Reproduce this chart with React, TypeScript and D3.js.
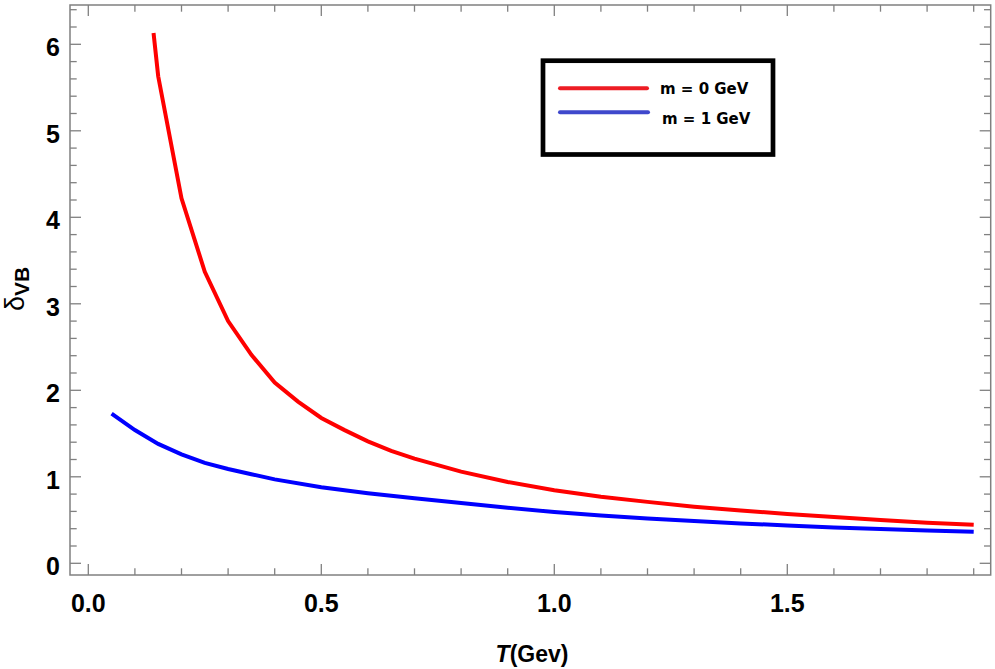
import * as d3 from "d3";

// temperatures (GeV) and delta_VB
const tRed = [0.14, 0.15, 0.2, 0.25, 0.3, 0.35, 0.4, 0.45, 0.5, 0.55, 0.6, 0.65, 0.7, 0.8, 0.9, 1.0, 1.1, 1.2, 1.3, 1.4, 1.5, 1.6, 1.7, 1.8, 1.9];
const vRed = [6.13, 5.63, 4.22, 3.37, 2.8, 2.41, 2.09, 1.87, 1.68, 1.54, 1.41, 1.3, 1.21, 1.06, 0.94, 0.845, 0.77, 0.71, 0.655, 0.61, 0.57, 0.535, 0.5, 0.47, 0.445];

const tBlue = [0.05, 0.1, 0.15, 0.2, 0.25, 0.3, 0.35, 0.4, 0.5, 0.6, 0.7, 0.8, 0.9, 1.0, 1.1, 1.2, 1.3, 1.4, 1.5, 1.6, 1.7, 1.8, 1.9];
const vBlue = [1.73, 1.54, 1.38, 1.26, 1.16, 1.09, 1.03, 0.97, 0.88, 0.81, 0.752, 0.697, 0.642, 0.592, 0.553, 0.518, 0.488, 0.461, 0.437, 0.415, 0.396, 0.38, 0.365];

const xMajor = [0, 0.5, 1.0, 1.5];
const xLabels = ["0.0", "0.5", "1.0", "1.5"];
const yMajor = [0, 1, 2, 3, 4, 5, 6];
const legendLabels = ["m = 0 GeV", "m = 1 GeV"];

const W = 995;
const H = 669;
const frame = { left: 70, right: 990.7, top: 5, bottom: 575 };
const gray = "#808080";
const font = "'Liberation Sans', Arial, sans-serif";

export default function App() {
  const x = d3.scaleLinear().domain([0, 1.9]).range([88.3, 88.3 + 1.9 * 466]);
  const y = d3.scaleLinear().domain([0, 6]).range([563.3, 44.3]);

  const line = d3
    .line<[number, number]>()
    .x((d) => x(d[0]))
    .y((d) => y(d[1]));

  const redPts = tRed.map((t, i) => [t, vRed[i]] as [number, number]);
  const bluePts = tBlue.map((t, i) => [t, vBlue[i]] as [number, number]);

  const xMinor = d3.range(0, 20).map((i) => i / 10).filter((v) => !xMajor.some((m) => Math.abs(m - v) < 1e-6));
  const yMinor = d3.range(0, 33).map((i) => i / 5).filter((v) => v < 6.45 && !yMajor.some((m) => Math.abs(m - v) < 1e-6));

  const majLen = 11;
  const minLen = 6.7;

  return (
    <svg width={W} height={H} style={{ position: "absolute", left: 0, top: 0, background: "#fff" }}>
      {/* ticks */}
      <g stroke={gray} strokeWidth={1.3}>
        {xMajor.concat(xMinor).map((v, i) => {
          const len = xMajor.includes(v) ? majLen : minLen;
          return (
            <g key={"xt" + i}>
              <line x1={x(v)} x2={x(v)} y1={frame.bottom} y2={frame.bottom - len} />
              <line x1={x(v)} x2={x(v)} y1={frame.top} y2={frame.top + len} />
            </g>
          );
        })}
        {yMajor.concat(yMinor).map((v, i) => {
          const len = yMajor.includes(v) ? majLen : minLen;
          return (
            <g key={"yt" + i}>
              <line x1={frame.left} x2={frame.left + len} y1={y(v)} y2={y(v)} />
              <line x1={frame.right} x2={frame.right - len} y1={y(v)} y2={y(v)} />
            </g>
          );
        })}
      </g>

      {/* curves */}
      <path d={line(bluePts) ?? ""} fill="none" stroke="#0000ff" strokeWidth={4} />
      <path d={line(redPts) ?? ""} fill="none" stroke="#ff0000" strokeWidth={4} />

      {/* frame */}
      <rect
        x={frame.left}
        y={frame.top}
        width={frame.right - frame.left}
        height={frame.bottom - frame.top}
        fill="none"
        stroke={gray}
        strokeWidth={1.5}
      />

      {/* tick labels */}
      <g fontFamily={font} fontWeight="bold" fontSize={25} fill="#000">
        {xMajor.map((v, i) => (
          <text key={"xl" + i} x={x(v)} y={612} textAnchor="middle">
            {xLabels[i]}
          </text>
        ))}
        {yMajor.map((v) => (
          <text key={"yl" + v} x={60} y={y(v) + 12} textAnchor="end">
            {v}
          </text>
        ))}
      </g>

      {/* axis titles */}
      <text x={532} y={662} textAnchor="middle" fontFamily={font} fontWeight="bold" fontSize={23}>
        <tspan fontStyle="italic">T</tspan>(Gev)
      </text>
      <text
        transform="translate(24,289) rotate(-90)"
        textAnchor="middle"
        fontFamily={font}
        fontSize={27}
      >
        δ
        <tspan fontWeight="bold" fontSize={21} dy={5}>
          VB
        </tspan>
      </text>

      {/* legend */}
      <rect x={543} y={60.7} width={230} height={93.8} fill="#fff" stroke="#000" strokeWidth={4.7} />
      <line x1={560} x2={647} y1={88.3} y2={88.3} stroke="#ed1c24" strokeWidth={4} strokeLinecap="round" />
      <line x1={560} x2={648} y1={112.3} y2={112.3} stroke="#3f48cc" strokeWidth={4} strokeLinecap="round" />
      <g fontFamily="'DejaVu Sans', Verdana, sans-serif" fontWeight="bold" fontSize={15} fill="#000">
        <text x={660} y={94}>{legendLabels[0]}</text>
        <text x={662} y={124}>{legendLabels[1]}</text>
      </g>
    </svg>
  );
}
